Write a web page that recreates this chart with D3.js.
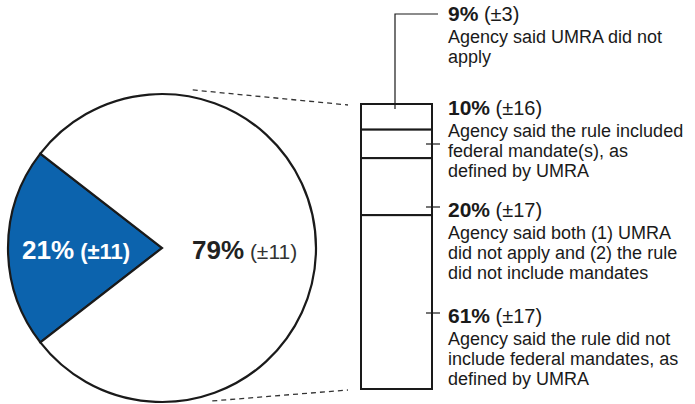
<!DOCTYPE html>
<html>
<head>
<meta charset="utf-8">
<script src="https://cdn.jsdelivr.net/npm/d3@7"></script>
<style>
  body { margin: 0; background: #fff; }
  text { font-family: "Liberation Sans", Arial, sans-serif; }
</style>
</head>
<body>
<div id="chart"></div>
<script>
// pie: share of rules
var pieNames = ["blue", "rest"];
var pieValues = [21, 79];
var pieMoe = [11, 11];

// bar breakdown of the 79%
var barValues = [9, 10, 20, 61];
var barMoe = [3, 16, 17, 17];
var barText = [
  ["Agency said UMRA did not", "apply"],
  ["Agency said the rule included", "federal mandate(s), as", "defined by UMRA"],
  ["Agency said both (1) UMRA", "did not apply and (2) the rule", "did not include mandates"],
  ["Agency said the rule did not", "include federal mandates, as", "defined by UMRA"]
];

var width = 695, height = 404;
var cx = 162, cy = 248, r = 154;
var blue = "#0c63ad";

var svg = d3.select("#chart").append("svg")
  .attr("width", width)
  .attr("height", height);

// pie
var total = d3.sum(pieValues);
var mid = 1.5 * Math.PI;
var start = mid - (pieValues[0] / total) * Math.PI;
var pie = d3.pie().sort(null).startAngle(start).endAngle(start + 2 * Math.PI);
var arc = d3.arc().innerRadius(0).outerRadius(r);
var arcs = pie(pieValues);

var pg = svg.append("g").attr("transform", "translate(" + cx + "," + cy + ")");
pg.selectAll("path")
  .data(arcs).enter()
  .append("path")
  .attr("d", arc)
  .style("fill", function(d, i) { return i == 0 ? blue : "#fff"; })
  .style("stroke", "#1a1a1a")
  .style("stroke-width", 2.2);

// pie labels
var pl = pg.append("text")
  .attr("x", -140)
  .attr("y", 11)
  .style("fill", "#fff")
  .style("font-weight", "bold");
pl.append("tspan").style("font-size", "26px").text(pieValues[0] + "%");
pl.append("tspan").style("font-size", "22px").text(" (\u00b1" + pieMoe[0] + ")");

var pr = pg.append("text")
  .attr("x", 30)
  .attr("y", 11)
  .style("fill", "#222");
pr.append("tspan").style("font-size", "26px").style("font-weight", "bold").text(pieValues[1] + "%");
pr.append("tspan").style("font-size", "21px").style("fill", "#333").text(" (\u00b1" + pieMoe[1] + ")");

// stacked bar
var barX = 361, barW = 71;
var y = d3.scaleLinear().domain([0, d3.sum(barValues)]).range([104, 389]);
var cum = 0;
var segs = barValues.map(function(v) {
  var s = {v: v, y0: cum, y1: cum + v};
  cum += v;
  return s;
});

// dashed connectors
var topAng = 11 * Math.PI / 180, botAng = 161.8 * Math.PI / 180, rr = r + 7;
svg.append("line")
  .attr("x1", cx + rr * Math.sin(topAng)).attr("y1", cy - rr * Math.cos(topAng))
  .attr("x2", barX - 13).attr("y2", y(0) + 1)
  .style("stroke", "#333").style("stroke-width", 1.3).style("stroke-dasharray", "5,4");
svg.append("line")
  .attr("x1", cx + rr * Math.sin(botAng)).attr("y1", cy - rr * Math.cos(botAng))
  .attr("x2", barX - 13).attr("y2", y(100) + 1)
  .style("stroke", "#333").style("stroke-width", 1.3).style("stroke-dasharray", "5,4");

svg.selectAll("rect.seg")
  .data(segs).enter()
  .append("rect")
  .attr("class", "seg")
  .attr("x", barX)
  .attr("y", function(d) { return y(d.y0); })
  .attr("width", barW)
  .attr("height", function(d) { return y(d.y1) - y(d.y0); })
  .style("fill", "#fff")
  .style("stroke", "#1a1a1a")
  .style("stroke-width", 2);

// labels on the right
var labelX = 448;
var headY = [21, 115, 217, 323];
var leadY = [14, 144, 207, 313];

// first leader goes up and over
svg.append("polyline")
  .attr("points", [[barX + 34, y(segs[0].y0) + 5], [barX + 34, leadY[0]], [labelX - 10, leadY[0]]].join(" "))
  .style("fill", "none").style("stroke", "#1a1a1a").style("stroke-width", 1.2);

for (var i = 1; i < segs.length; i++) {
  svg.append("line")
    .attr("x1", barX + barW - 6).attr("y1", leadY[i])
    .attr("x2", labelX - 8).attr("y2", leadY[i])
    .style("stroke", "#1a1a1a").style("stroke-width", 1.2);
}

var lab = svg.selectAll("g.lab")
  .data(segs).enter()
  .append("g")
  .attr("class", "lab");

lab.each(function(d, i) {
  var g = d3.select(this);
  var t = g.append("text").attr("x", labelX).attr("y", headY[i]).style("fill", "#1a1a1a");
  t.append("tspan").style("font-size", "21px").style("font-weight", "bold").text(d.v + "%");
  t.append("tspan").style("font-size", "20px").text(" (\u00b1" + barMoe[i] + ")");
  barText[i].forEach(function(line, j) {
    g.append("text")
      .attr("x", labelX)
      .attr("y", headY[i] + 22 + j * 20)
      .style("font-size", "18px")
      .style("fill", "#1a1a1a")
      .text(line);
  });
});
</script>
</body>
</html>
